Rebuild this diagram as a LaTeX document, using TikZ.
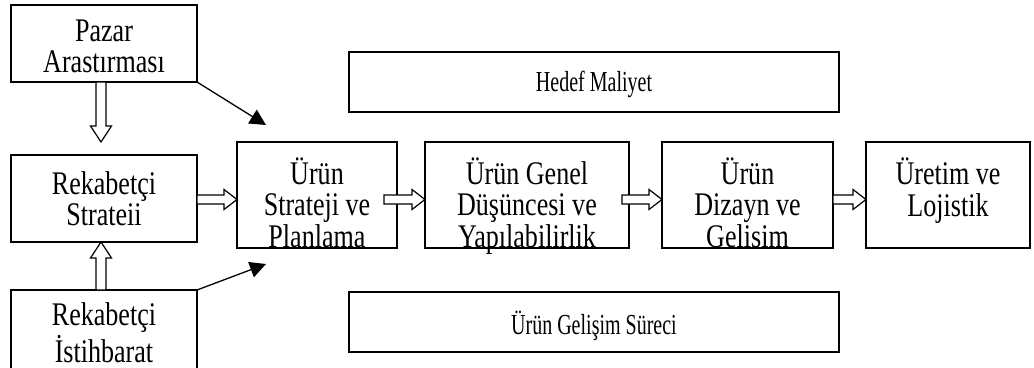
\documentclass[tikz,border=0pt]{standalone}
\usepackage{fontspec}
\setmainfont{Liberation Serif}
\usetikzlibrary{calc,arrows.meta}

\tikzset{
  box/.style={draw, line width=1.3pt, rectangle, inner sep=0pt, outer sep=0pt},
  blk/.style={draw, line width=1.2pt, fill=white, line join=miter},
  thin arrow/.style={line width=1.3pt, -{Triangle[length=16pt,width=16pt]}},
}

% top-aligned, horizontally condensed text of a frame:
% #1 width, #2 height, #3 space above first line, #4 font size, #5 condense factor, #6 lines
\newcommand\boxtext[6]{%
  \parbox[c][#2][t]{#1}{\vspace*{#3}\centering
    \fontsize{#4}{30pt}\selectfont
    \scalebox{#5}[1]{\begin{tabular}[t]{@{}c@{}}#6\end{tabular}}}}

% open block arrow pointing right: #1 = start point, #2 = tip point (same height)
\newcommand\rightblk[2]{%
  \draw[blk] let \p1=(#1), \p2=(#2) in
    (\x1,\y1+4.5pt) -- (\x2-13pt,\y1+4.5pt) -- (\x2-13pt,\y1+10pt) -- (\x2,\y1)
    -- (\x2-13pt,\y1-10pt) -- (\x2-13pt,\y1-4.5pt) -- (\x1,\y1-4.5pt) -- cycle;}
% open block arrow pointing up or down: #1 = start point, #2 = tip point
\newcommand\vertblk[2]{%
  \draw[blk] let \p1=(#1), \p2=(#2), \n1={sign(\y2-\y1)} in
    (\x1-5pt,\y1) -- (\x1-5pt,\y2-\n1*16pt) -- (\x1-10.5pt,\y2-\n1*16pt) -- (\x1,\y2)
    -- (\x1+10.5pt,\y2-\n1*16pt) -- (\x1+5pt,\y2-\n1*16pt) -- (\x1+5pt,\y1) -- cycle;}

\begin{document}
\begin{tikzpicture}[x=1pt,y=-1pt]
\useasboundingbox (0,0) rectangle (1034,367);
\clip (0,0) rectangle (1034,367);

% left column
\node[box] (pazar) at (104,43.5)
  {\boxtext{186pt}{77pt}{15pt}{33pt}{0.79}{Pazar\\Arastırması}};
\node[box] (rstr) at (104,198.5)
  {\boxtext{186pt}{87pt}{17pt}{33pt}{0.79}{Rekabetçi\\Strateii}};
\node[box] (rist) at (104,330)
  {\boxtext{186pt}{80pt}{13pt}{33pt}{0.79}{Rekabetçi\\İstihbarat}};

% process chain
\node[box] (ustr) at (317,195)
  {\boxtext{160pt}{106pt}{16pt}{33pt}{0.79}{Ürün\\Strateji ve\\Planlama}};
\node[box] (ugen) at (527,195)
  {\boxtext{204pt}{106pt}{16pt}{33pt}{0.79}{Ürün Genel\\Düşüncesi ve\\Yapılabilirlik}};
\node[box] (udiz) at (747.5,195)
  {\boxtext{171pt}{106pt}{16pt}{33pt}{0.79}{Ürün\\Dizayn ve\\Gelisim}};
\node[box] (uret) at (948,195)
  {\boxtext{164pt}{106pt}{16pt}{33pt}{0.79}{Üretim ve\\Lojistik}};

% wide frames above and below
\node[box] (hedef) at (594,82)
  {\boxtext{490pt}{60pt}{18pt}{29pt}{0.69}{Hedef Maliyet}};
\node[box] (surec) at (594,322)
  {\boxtext{490pt}{60pt}{19pt}{29pt}{0.69}{Ürün Gelişim Süreci}};

% block arrows
\vertblk{$(pazar.south)+(-3,0)$}{$(pazar.south)+(-3,60)$}
\vertblk{$(rist.north)+(-3,0)$}{$(rstr.south)+(-3,0)$}
\rightblk{$(rstr.east)+(0,1)$}{$(ustr.west)+(0,4.5)$}
\rightblk{$(ustr.east)+(-13,4.5)$}{$(ugen.west)+(0,4.5)$}
\rightblk{$(ugen.east)+(-7,4.5)$}{$(udiz.west)+(0,4.5)$}
\rightblk{$(udiz.east)+(0,4.5)$}{$(uret.west)+(0,4.5)$}

% influence lines into product strategy
\coordinate (tipA) at (266,125);
\coordinate (tipB) at (266,264);
\draw[thin arrow] (pazar.south east) -- (tipA);
\draw[thin arrow] (rist.north east) -- (tipB);
\end{tikzpicture}
\end{document}
